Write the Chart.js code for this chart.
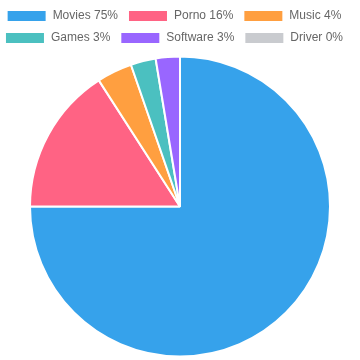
<!DOCTYPE html>
<html>
<head>
<meta charset="utf-8">
<script src="https://cdn.jsdelivr.net/npm/chart.js@4"></script>
<style>
html,body{margin:0;padding:0;background:#fff;}
#wrap{width:360px;height:360px;}
</style>
</head>
<body>
<div id="wrap"><canvas id="c" width="360" height="360"></canvas></div>
<script>
const categories = ["Movies 75%", "Porno 16%", "Music 4%", "Games 3%", "Software 3%", "Driver 0%"];
const shares = [75, 15.9, 3.8, 2.7, 2.6, 0];
const colors = ["#36A2EB", "#FF6384", "#FF9F40", "#4BC0C0", "#9966FF", "#C9CBCF"];

const legendShift = {
  id: 'legendShift',
  afterLayout(chart) {
    if (chart.legend) { chart.legend.left -= 12; }
  }
};

new Chart(document.getElementById('c'), {
  type: 'pie',
  data: {
    labels: categories,
    datasets: [{
      data: shares,
      backgroundColor: colors,
      borderColor: '#fff',
      borderWidth: 2
    }]
  },
  plugins: [legendShift],
  options: {
    responsive: false,
    animation: false,
    radius: 150,
    layout: { padding: { bottom: 1 } },
    plugins: {
      legend: {
        position: 'top',
        labels: { font: { family: 'Arial, Liberation Sans, sans-serif', size: 12 }, color: '#666' }
      },
      tooltip: { enabled: false }
    }
  }
});
</script>
</body>
</html>
